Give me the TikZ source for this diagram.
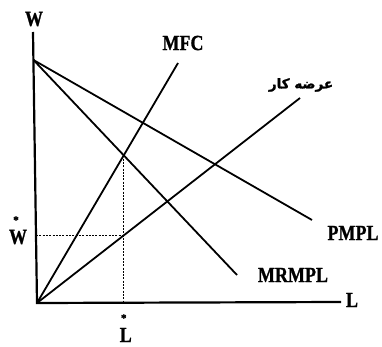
\documentclass[tikz,border=0pt]{standalone}
\usepackage{fontspec}
\setmainfont{Liberation Serif}[BoldFeatures={FakeBold=1.2}]
\newfontfamily\arabicfont[Script=Arabic,BoldFont={DejaVu Sans Bold},BoldFeatures={FakeBold=1.5}]{DejaVu Sans}
\TeXXeTstate=1
\usetikzlibrary{intersections,calc}
\newcommand\tallbox[1]{\scalebox{1}[1.2]{#1}}
\begin{document}
\begin{tikzpicture}[x=1pt,y=-1pt,
  curve/.style={line width=1.8pt},
  axis/.style={line width=2.2pt},
  guide/.style={line width=1.4pt,dash pattern=on 2pt off 1.3pt},
  lbl/.style={font=\bfseries\fontsize{18}{18}\selectfont,inner sep=0pt},
  star/.style={font=\bfseries\fontsize{11}{11}\selectfont,inner sep=0pt}]
\useasboundingbox (0,0) rectangle (382,347);
\coordinate (top) at (33,32);
\coordinate (O) at (37,303);
\coordinate (A) at (33.5,60);
\coordinate (Lend) at (341,302);
\coordinate (pm) at (312,220);
\coordinate (mr) at (237,275);
\coordinate (mf) at (178,63);
\coordinate (sp) at (300,98);
\draw[axis] (top) -- (O) -- (Lend);
\draw[curve] (A) -- (pm);
\draw[curve,name path=mrp] (A) -- (mr);
\draw[curve,name path=mfp] (O) -- (mf);
\draw[curve,name path=spp] (O) -- (sp);
\path[name intersections={of=mrp and mfp,by=E}];
\path[name path=vert] (E) -- (E |- O);
\path[name intersections={of=vert and spp,by=S}];
\coordinate (Ebot) at (E |- O);
\coordinate (Sleft) at ($(S -| O)+(-1,0)$);
\draw[guide] (E) -- (Ebot);
\draw[guide] (Sleft) -- (S);
\node[lbl] (Wl) at (34,19) {\tallbox{W}};
\node[lbl] (Ll) at (352,300) {\tallbox{L}};
\node[lbl] (mfcl) at (183,43) {\tallbox{MFC}};
\node[lbl] (pmpll) at (353,233) {\tallbox{PMPL}};
\node[lbl] (mrmpll) at (293,275) {\tallbox{MRMPL}};
\node[inner sep=0pt,font=\arabicfont\bfseries\fontsize{13.5}{13.5}\selectfont] (supl) at (301,85) {\beginR عرضه کار\endR};
\node[lbl] (Wsl) at (18,237) {\tallbox{W}};
\node[star] (Wst) at (16,220) {*};
\node[lbl] (Lsl) at ($(E |- 0,335)+(2,0)$) {\tallbox{L}};
\node[star] (Lst) at (E |- 0,318) {*};
\end{tikzpicture}
\end{document}
